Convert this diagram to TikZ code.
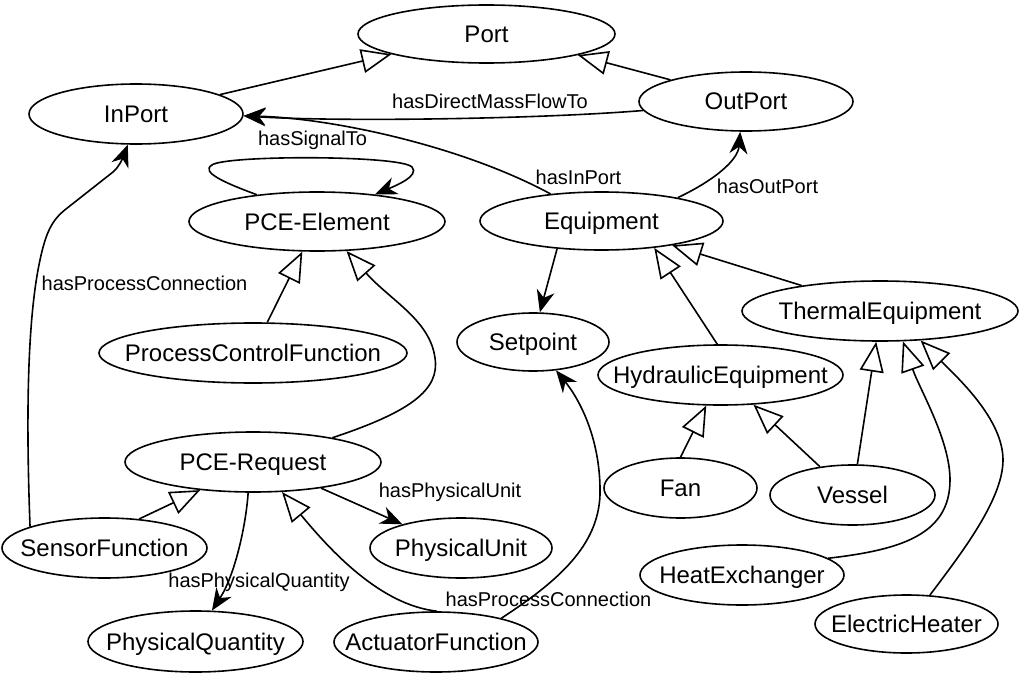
\documentclass[tikz,border=0pt]{standalone}
\usepackage{fontspec}
\setmainfont{Liberation Sans}
\usetikzlibrary{shapes.geometric,arrows.meta}
\begin{document}
\begin{tikzpicture}[x=1pt,y=-1pt,
  ent/.style={ellipse,draw,line width=1.6pt,inner sep=0pt,text height=17pt,text depth=0pt,font=\fontsize{24}{28}\selectfont},
  gen/.style={line width=1.6pt,-{Triangle[open,length=30pt,width=24pt]}},
  rel/.style={line width=1.6pt,-{Stealth[length=22pt,width=18pt,inset=7pt]}},
  lbl/.style={inner sep=0pt,text height=14pt,text depth=0pt,font=\fontsize{20}{24}\selectfont}]
\useasboundingbox (0,0) rectangle (1022,674);

\node[ent,minimum width=257pt,minimum height=58pt] (port) at (486.5,34) {\makebox[0pt]{Port}};
\node[ent,minimum width=214pt,minimum height=60pt] (inport) at (136,114) {\makebox[0pt]{InPort}};
\node[ent,minimum width=214pt,minimum height=59pt] (outport) at (746,101.5) {\makebox[0pt]{OutPort}};
\node[ent,minimum width=256pt,minimum height=59pt] (pce) at (317,221.5) {\makebox[0pt]{PCE-Element}};
\node[ent,minimum width=243pt,minimum height=58pt] (equip) at (601.5,221) {\makebox[0pt]{Equipment}};
\node[ent,minimum width=276pt,minimum height=60pt] (thermal) at (880,311) {\makebox[0pt]{ThermalEquipment}};
\node[ent,minimum width=308pt,minimum height=60pt] (pcf) at (253,353) {\makebox[0pt]{ProcessControlFunction}};
\node[ent,minimum width=152pt,minimum height=58pt] (setpoint) at (533,342) {\makebox[0pt]{Setpoint}};
\node[ent,minimum width=245pt,minimum height=60pt] (hydraulic) at (720.5,375) {\makebox[0pt]{HydraulicEquipment}};
\node[ent,minimum width=256pt,minimum height=60pt] (pcereq) at (253,462) {\makebox[0pt]{PCE-Request}};
\node[ent,minimum width=153pt,minimum height=60pt] (fan) at (680.5,488) {\makebox[0pt]{Fan}};
\node[ent,minimum width=165pt,minimum height=60pt] (vessel) at (852.5,495) {\makebox[0pt]{Vessel}};
\node[ent,minimum width=205pt,minimum height=60pt] (sensor) at (104.5,548) {\makebox[0pt]{SensorFunction}};
\node[ent,minimum width=182pt,minimum height=60pt] (unit) at (461,548) {\makebox[0pt]{PhysicalUnit}};
\node[ent,minimum width=204pt,minimum height=60pt] (heatex) at (742,575) {\makebox[0pt]{HeatExchanger}};
\node[ent,minimum width=183pt,minimum height=58pt] (heater) at (906.5,624) {\makebox[0pt]{ElectricHeater}};
\node[ent,minimum width=215pt,minimum height=61pt] (quantity) at (195.5,641.5) {\makebox[0pt]{PhysicalQuantity}};
\node[ent,minimum width=204pt,minimum height=60pt] (actuator) at (436,642) {\makebox[0pt]{ActuatorFunction}};

% generalizations
\draw[gen] (inport.13) -- (port.-168);
\draw[gen] (outport.164.6) -- (port.-13.8);
\draw[gen] (pcf.65) -- (pce.-116);
\draw[gen] (pcereq.17.6) .. controls (410,412) and (440,390) .. (435,358) .. controls (430,320) and (390,300) .. (pce.-45.5);
\draw[gen] (hydraulic.96.7) -- (equip.-27);
\draw[gen] (thermal.162) -- (equip.-19);
\draw[gen] (fan.90) -- (hydraulic.-115);
\draw[gen] (vessel.139) -- (hydraulic.-42.7);
\draw[gen] (vessel.81.5) -- (thermal.-97);
\draw[gen] (heatex.11) .. controls (900,550) and (950,535) .. (950,480) .. controls (950,440) and (920,390) .. (thermal.-53.4);
\draw[gen] (heater.51) .. controls (960,555) and (1003,500) .. (1003,460) .. controls (1003,420) and (960,380) .. (thermal.-36.4);
\draw[gen] (sensor.40) -- (pcereq.-152);
\draw[gen] (actuator.88) .. controls (380,605) and (330,550) .. (pcereq.-46);

% relations
\draw[rel] (outport.185) .. controls (540,119) and (340,122) .. (inport.-1)
  node[lbl] at (490,101.5) {hasDirectMassFlowTo};
\draw[rel] (equip.152.4) .. controls (460,145) and (330,118) .. (inport.-1)
  node[lbl] at (578.5,177) {hasInPort};
\draw[rel] (equip.17.6) .. controls (715,180) and (738,160) .. (outport.-101)
  node[lbl] at (767.5,186) {hasOutPort};
\draw[rel] (pce.156) .. controls (225,183) and (200,172) .. (212,165) .. controls (225,155) and (400,155) .. (412,167) .. controls (420,176) and (395,186) .. (pce.25)
  node[lbl] at (312.5,138.5) {hasSignalTo};
\draw[rel] (equip.-148) -- (setpoint.77);
\draw[rel] (sensor.164) .. controls (26,420) and (27,320) .. (40,260) .. controls (46,232) and (52,220) .. (66,209) -- (113,172) .. controls (118,168) and (122,160) .. (inport.-105)
  node[lbl] at (144.5,283) {hasProcessConnection};
\draw[rel] (pcereq.-21.8) -- (unit.158)
  node[lbl] at (450,490) {hasPhysicalUnit};
\draw[rel] (pcereq.-99.5) .. controls (246,525) and (235,575) .. (quantity.62)
  node[lbl] at (259,580) {hasPhysicalQuantity};
\draw[rel] (actuator.20.5) .. controls (560,580) and (598,545) .. (600,495) .. controls (601,440) and (580,400) .. (setpoint.-51)
  node[lbl] at (548.5,599) {hasProcessConnection};
\end{tikzpicture}
\end{document}
